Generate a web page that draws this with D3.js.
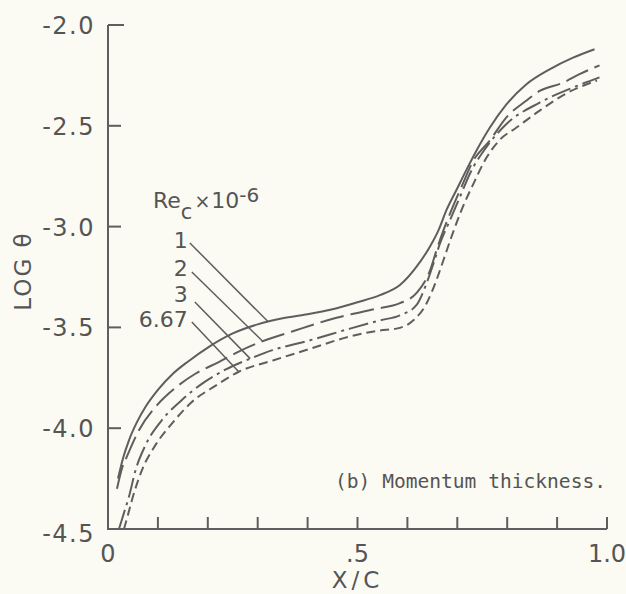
<!DOCTYPE html>
<html>
<head>
<meta charset="utf-8">
<script src="https://cdn.jsdelivr.net/npm/d3@7"></script>
<style>
  html, body { margin: 0; padding: 0; background: #fbfbf4; }
  svg { display: block; }
  text { font-family: "DejaVu Sans", sans-serif; fill: #555; }
</style>
</head>
<body>
<svg id="chart" width="626" height="594"></svg>
<script>
// ---------- data ----------
const reLabels = ["1", "2", "3", "6.67"];
const dashStyles = ["none", "24,7", "20,5,3,5", "9,5"];
const xTicks = [0, 0.1, 0.2, 0.3, 0.4, 0.5, 0.6, 0.7, 0.8, 0.9, 1.0];
const xTickLabels = [[0, "0"], [0.5, ".5"], [1.0, "1.0"]];
const yTicks = [-2.0, -2.5, -3.0, -3.5, -4.0, -4.5];
const yTickLabels = ["-2.0", "-2.5", "-3.0", "-3.5", "-4.0", "-4.5"];

const re1 = [
  [0.020,-4.25],[0.030,-4.15],[0.042,-4.06],[0.058,-3.97],[0.075,-3.895],[0.10,-3.81],
  [0.13,-3.73],[0.16,-3.67],[0.20,-3.60],[0.25,-3.53],[0.30,-3.485],[0.35,-3.455],
  [0.40,-3.435],[0.45,-3.41],[0.50,-3.375],[0.545,-3.34],[0.585,-3.29],[0.618,-3.20],
  [0.645,-3.10],[0.662,-3.02],[0.678,-2.92],[0.698,-2.82],[0.718,-2.72],[0.738,-2.625],
  [0.765,-2.51],[0.798,-2.395],[0.838,-2.295],[0.885,-2.22],[0.932,-2.162],[0.975,-2.12]
];
const re2 = [
  [0.018,-4.30],[0.028,-4.20],[0.038,-4.14],[0.062,-4.01],[0.095,-3.895],[0.135,-3.80],
  [0.175,-3.73],[0.222,-3.672],[0.262,-3.62],[0.305,-3.573],[0.372,-3.518],[0.458,-3.452],
  [0.535,-3.409],[0.585,-3.38],[0.618,-3.33],[0.645,-3.22],[0.658,-3.12],[0.672,-3.02],
  [0.688,-2.92],[0.708,-2.805],[0.732,-2.673],[0.765,-2.574],[0.798,-2.459],[0.838,-2.376],
  [0.865,-2.327],[0.912,-2.286],[0.945,-2.244],[0.985,-2.20]
];
const re3 = [
  [0.022,-4.50],[0.032,-4.42],[0.042,-4.34],[0.055,-4.21],[0.075,-4.085],[0.108,-3.96],
  [0.148,-3.86],[0.188,-3.78],[0.235,-3.71],[0.285,-3.655],[0.328,-3.614],[0.405,-3.564],
  [0.485,-3.506],[0.545,-3.465],[0.585,-3.44],[0.618,-3.39],[0.638,-3.284],[0.652,-3.185],
  [0.665,-3.086],[0.685,-2.97],[0.705,-2.855],[0.725,-2.739],[0.760,-2.60],[0.798,-2.492],
  [0.865,-2.385],[0.932,-2.31],[0.985,-2.26]
];
const re667 = [
  [0.032,-4.50],[0.040,-4.43],[0.048,-4.356],[0.068,-4.208],[0.095,-4.084],[0.128,-3.977],
  [0.168,-3.87],[0.215,-3.79],[0.262,-3.72],[0.332,-3.663],[0.405,-3.606],[0.485,-3.545],
  [0.545,-3.515],[0.578,-3.506],[0.612,-3.465],[0.638,-3.383],[0.658,-3.267],[0.672,-3.168],
  [0.688,-3.053],[0.708,-2.921],[0.732,-2.789],[0.758,-2.66],[0.785,-2.57],[0.818,-2.51],
  [0.865,-2.425],[0.918,-2.34],[0.98,-2.275]
];
const seriesData = [re1, re2, re3, re667];
// where each leader line meets its curve (x/c), where it starts, and the label baseline (log θ)
const leaderTargetX = [0.321, 0.31, 0.285, 0.262];
const leaderStart = [[0.164, -3.081], [0.168, -3.225], [0.174, -3.374], [0.168, -3.473]];
const labelBaseY = [-3.106, -3.245, -3.374, -3.498];

// ---------- scales ----------
const svg = d3.select("#chart");
const x = d3.scaleLinear().domain([0, 1]).range([108, 607]);
const y = d3.scaleLinear().domain([-4.5, -2.0]).range([529, 25]);
const ink = "#5e5e5e";

// ---------- axes ----------
const g = svg.append("g");
g.append("line").attr("x1", x(0)).attr("x2", x(0)).attr("y1", y(-2.0)).attr("y2", y(-4.5))
  .attr("stroke", ink).attr("stroke-width", 2);
g.append("line").attr("x1", x(0) - 1).attr("x2", x(1)).attr("y1", y(-4.5)).attr("y2", y(-4.5))
  .attr("stroke", ink).attr("stroke-width", 2);
g.selectAll(".yt").data(yTicks.filter(d => d > -4.5)).enter().append("line")
  .attr("x1", x(0)).attr("x2", d => x(0) + (d === -2.0 ? 16 : 13))
  .attr("y1", d => y(d)).attr("y2", d => y(d))
  .attr("stroke", ink).attr("stroke-width", 2);
g.selectAll(".xt").data(xTicks.filter(d => d > 0)).enter().append("line")
  .attr("x1", d => x(d)).attr("x2", d => x(d))
  .attr("y1", y(-4.5)).attr("y2", y(-4.5) - 12)
  .attr("stroke", ink).attr("stroke-width", 2);

g.selectAll(".yl").data(yTicks).enter().append("text")
  .attr("x", x(0) - 13).attr("y", d => y(d) + (d === -4.5 ? 13 : 9))
  .attr("text-anchor", "end").attr("font-size", 24).attr("letter-spacing", 1.5)
  .text((d, i) => yTickLabels[i]);
g.selectAll(".xl").data(xTickLabels).enter().append("text")
  .attr("x", d => x(d[0])).attr("y", 562)
  .attr("text-anchor", "middle").attr("font-size", 24)
  .text(d => d[1]);

svg.append("text").attr("x", x(0.5)).attr("y", 588)
  .attr("text-anchor", "middle").attr("font-size", 23).attr("letter-spacing", 4)
  .text("X/C");
svg.append("text").attr("transform", "translate(31,271) rotate(-90)")
  .attr("text-anchor", "middle").attr("font-size", 23).attr("letter-spacing", 2)
  .text("LOG θ");

// ---------- curves ----------
const line = d3.line().x(d => x(d[0])).y(d => y(d[1])).curve(d3.curveMonotoneX);
svg.append("g").selectAll("path").data(seriesData).enter().append("path")
  .attr("d", line)
  .attr("fill", "none").attr("stroke", ink).attr("stroke-width", 2)
  .attr("stroke-dasharray", (d, i) => dashStyles[i]);

// ---------- legend ----------
function interpY(data, xv) {
  for (let i = 1; i < data.length; i++) {
    if (data[i][0] >= xv) {
      const [x0, y0] = data[i - 1], [x1, y1] = data[i];
      return y0 + (y1 - y0) * (xv - x0) / (x1 - x0);
    }
  }
  return data[data.length - 1][1];
}
const leg = svg.append("g");
const title = leg.append("text").attr("x", 153).attr("y", 208).attr("font-size", 22);
title.append("tspan").text("Re");
title.append("tspan").attr("dy", 11).attr("font-size", 21).text("c");
title.append("tspan").attr("dy", -11).attr("dx", 2).attr("font-size", 19).text("×");
title.append("tspan").attr("dx", 1).text("10");
title.append("tspan").attr("dy", -6).attr("font-size", 20).text("-6");

reLabels.forEach((lab, i) => {
  const [sx, sy] = leaderStart[i];
  leg.append("text").attr("x", x(0.16)).attr("y", y(labelBaseY[i]))
    .attr("text-anchor", "end").attr("font-size", 22).text(lab);
  const tx = leaderTargetX[i];
  leg.append("line")
    .attr("x1", x(sx)).attr("y1", y(sy))
    .attr("x2", x(tx)).attr("y2", y(interpY(seriesData[i], tx)))
    .attr("stroke", ink).attr("stroke-width", 1.5);
});

svg.append("text").attr("x", 335).attr("y", 488)
  .style("font-family", "'DejaVu Sans Mono', monospace")
  .attr("font-size", 19.6).attr("textLength", 271).attr("lengthAdjust", "spacingAndGlyphs")
  .text("(b) Momentum thickness.");
</script>
</body>
</html>
